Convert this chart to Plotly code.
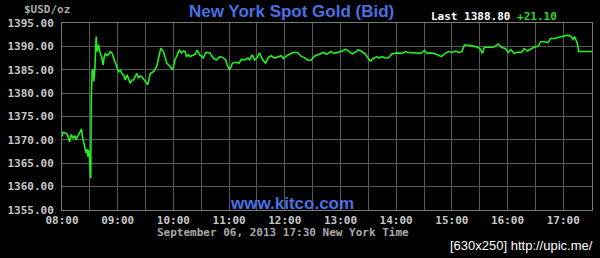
import pandas as pd
import plotly.graph_objects as go

# minutes after 08:00 New York time, and bid price (USD/oz)
minutes = [
    0, 1, 4, 6, 8, 10, 12, 14, 15, 17, 19, 21, 22, 24, 26, 27, 28, 29, 30, 31,
    31.5, 32.5, 33.5, 34.3, 35.4, 36.8, 37.9, 38.8, 39.6, 40.5, 41.4, 43, 44.3, 45.5, 46.8, 48.5,
    50.4, 52, 53.9, 55.5, 57.5, 59, 61, 63, 64.6, 66.5, 68.2, 70, 72, 73.6, 75.5, 77.1,
    79, 80.7, 82.5, 84.3, 86, 88, 89.6, 92.5, 95, 98.6, 102, 104.5, 106.4, 109.3, 111,
    112.9, 116.4, 119.3, 121.8, 124, 126.4, 128.9, 130.5, 132.5, 134.3, 136, 137.9, 139.5,
    141.4, 143.5, 145.7, 148.6, 150.5, 152.1, 155, 159.3, 162.9, 166.4, 170, 173.6, 176.4,
    177.9, 180.7, 183.6, 187.9, 190.7, 193.2, 196.8, 200.4, 202.1, 205, 207.5, 210, 212.9,
    215.7, 219.3, 221.8, 225.4, 228.9, 232.5, 236.1, 238.6, 241.4, 245, 249.3, 253.9, 257.5,
    261.1, 264.6, 268.2, 271.8, 277.1, 281.4, 285, 289.6, 293.2, 298.6, 302.1, 305.7, 309.3,
    312.9, 317.1, 319.3, 322.9, 327.1, 330.7, 332.5, 336.1, 339.6, 341.4, 345, 347.9, 351.4,
    355.7, 361.1, 366.4, 370, 373.6, 378.9, 386.1, 390.7, 393.2, 396.8, 402.1, 405.7, 408.6,
    412.9, 416.4, 420, 424.3, 427.9, 430.7, 433.6, 437.1, 441.4, 446.8, 450.4, 452.9, 455,
    459.3, 464.6, 470, 473.6, 477.9, 480.7, 483.6, 487.1, 491.4, 495, 497.9, 501.4, 505.7,
    509.3, 512.9, 515.7, 520, 523.6, 526.4, 530.7, 534.3, 537.9, 541.4, 545, 548.6, 550.4,
    552.1, 555, 556.8, 561.1, 566.4, 571,
]
prices = [
    1370.7, 1371.6, 1371.4, 1371.1, 1369.6, 1371.1, 1370.4, 1370.9, 1370.0, 1370.7, 1371.6,
    1372.3, 1370.7, 1368.9, 1367.2, 1368.0, 1366.4, 1367.8, 1365.0, 1361.8,
    1379.0, 1384.8, 1385.0, 1382.5, 1385.2, 1392.1, 1388.9, 1389.6, 1390.3, 1389.0, 1388.5,
    1387.5, 1386.0, 1387.8, 1388.5, 1388.0,
    1388.3, 1388.9, 1388.5, 1387.6, 1386.7, 1385.4, 1384.6, 1384.9, 1384.2, 1383.8, 1382.8,
    1383.9, 1382.6, 1382.1, 1382.8, 1382.8,
    1383.6, 1384.2, 1383.2, 1383.7, 1383.5, 1382.9, 1382.5, 1381.8, 1384.2, 1384.6, 1385.7,
    1387.8, 1389.6, 1388.9, 1387.5,
    1386.4, 1385.7, 1385.0, 1387.1, 1388.2, 1389.2, 1388.6, 1389.0, 1388.9, 1387.8, 1388.2,
    1387.8, 1388.0,
    1388.1, 1388.3, 1389.2, 1388.1, 1387.9, 1387.5, 1388.7, 1388.6, 1387.5, 1387.1, 1387.8,
    1387.6, 1387.1,
    1386.0, 1385.0, 1386.4, 1386.6, 1386.4, 1387.2, 1387.1, 1387.5, 1387.1, 1388.2, 1387.1,
    1387.5, 1388.6,
    1387.3, 1386.4, 1387.5, 1388.0, 1387.5, 1387.7, 1388.0, 1387.4, 1387.9, 1388.3, 1388.7,
    1388.7, 1387.9,
    1387.6, 1387.1, 1387.0, 1387.9, 1388.3, 1388.7, 1388.3, 1388.9, 1388.5, 1388.8, 1389.0,
    1389.4, 1388.9,
    1388.4, 1388.9, 1389.3, 1388.9, 1388.3, 1387.2, 1386.9, 1387.5, 1387.8, 1387.5, 1387.8,
    1387.5, 1387.5,
    1388.4, 1388.6, 1388.5, 1388.9, 1388.7, 1388.6, 1388.5, 1389.1, 1388.5, 1388.6, 1388.4,
    1388.1, 1387.8,
    1388.5, 1388.9, 1388.7, 1389.0, 1388.7, 1388.9, 1390.3, 1390.3, 1390.1, 1389.9, 1389.5,
    1388.5, 1389.8,
    1389.8, 1389.8, 1390.5, 1389.8, 1389.5, 1388.7, 1389.3, 1388.5, 1388.8, 1388.7, 1389.5,
    1389.0, 1389.5,
    1389.9, 1390.0, 1391.0, 1391.0, 1390.8, 1391.7, 1391.7, 1391.9, 1392.1, 1392.3, 1392.4,
    1392.1, 1391.5,
    1392.1, 1390.8, 1388.9, 1388.9, 1388.9, 1388.9,
]

y_ticks = [1355, 1360, 1365, 1370, 1375, 1380, 1385, 1390, 1395]
x_tick_labels = ["08:00", "09:00", "10:00", "11:00", "12:00", "13:00", "14:00", "15:00", "16:00", "17:00"]
half_hours = ["08:30", "09:30", "10:30", "11:30", "12:30", "13:30", "14:30", "15:30", "16:30"]

title_text = "New York Spot Gold (Bid)"
unit_text = "$USD/oz"
last_price = "1388.80"
change = "+21.10"
date_text = "September 06, 2013 17:30 New York Time"
site_text = "www.kitco.com"
credit_text = "[630x250] http://upic.me/"

base = pd.Timestamp("2013-09-06 08:00")
times = [base + pd.Timedelta(minutes=m) for m in minutes]
tick_vals = [pd.Timestamp("2013-09-06 " + t) for t in x_tick_labels]
minor_vals = [pd.Timestamp("2013-09-06 " + t) for t in half_hours]

W, H = 600, 258
L, R, T, B = 58, 7, 23, 48
pw, ph = W - L - R, H - T - B


def px(x):
    return (x - L) / pw


def py(y):
    return (H - B - y) / ph


mono = "DejaVu Sans Mono"
blue = "#4a70e2"
grid = "#595959"

fig = go.Figure()
fig.add_trace(go.Scatter(
    x=times, y=prices, mode="lines",
    line=dict(color="#22ee22", width=1.6),
    hoverinfo="skip",
))

fig.update_layout(
    width=W, height=H,
    margin=dict(l=L, r=R, t=T, b=B, pad=0),
    paper_bgcolor="black", plot_bgcolor="black",
    showlegend=False,
    xaxis=dict(
        range=[base, base + pd.Timedelta(minutes=571)],
        tickvals=tick_vals, ticktext=x_tick_labels,
        showgrid=True, gridcolor=grid, gridwidth=1,
        minor=dict(tickmode="array", tickvals=minor_vals, showgrid=True,
                   gridcolor=grid, gridwidth=1, ticks=""),
        showline=True, linecolor="#7a7a7a", linewidth=1, mirror=True,
        ticks="", zeroline=False,
        tickfont=dict(family=mono, size=11, color="#c8c8c8", weight="bold"),
    ),
    yaxis=dict(
        range=[1355, 1395], tickvals=y_ticks, tickformat=".2f",
        showgrid=True, gridcolor=grid, gridwidth=1,
        showline=True, linecolor="#7a7a7a", linewidth=1, mirror=True,
        ticks="", zeroline=False, ticklabelstandoff=5,
        tickfont=dict(family=mono, size=11, color="#c8c8c8", weight="bold"),
    ),
)

anns = [
    dict(text=title_text, x=px(290), y=py(12), xanchor="center", yanchor="middle",
         font=dict(family="Liberation Sans", size=17, color=blue, weight="bold")),
    dict(text=unit_text, x=px(18), y=py(10), xanchor="left", yanchor="middle",
         font=dict(family=mono, size=11, color="#aaaaaa", weight="bold")),
    dict(text=f"Last {last_price} <span style='color:#22dd22'>{change}</span>",
         x=px(428), y=py(16), xanchor="left", yanchor="middle",
         font=dict(family=mono, size=11, color="white", weight="bold")),
    dict(text=site_text, x=px(290), y=py(203), xanchor="center", yanchor="middle",
         font=dict(family="Liberation Sans", size=17, color=blue, weight="bold")),
    dict(text=date_text, x=px(281), y=py(232), xanchor="center", yanchor="middle",
         font=dict(family=mono, size=11, color="#aaaaaa", weight="bold")),
    dict(text=credit_text, x=px(596), y=py(245), xanchor="right", yanchor="middle",
         font=dict(family="Liberation Sans Narrow, Liberation Sans", size=13, color="white")),
]
for a in anns:
    a.update(xref="paper", yref="paper", showarrow=False)
fig.update_layout(annotations=anns)

fig.write_html("out.html")
